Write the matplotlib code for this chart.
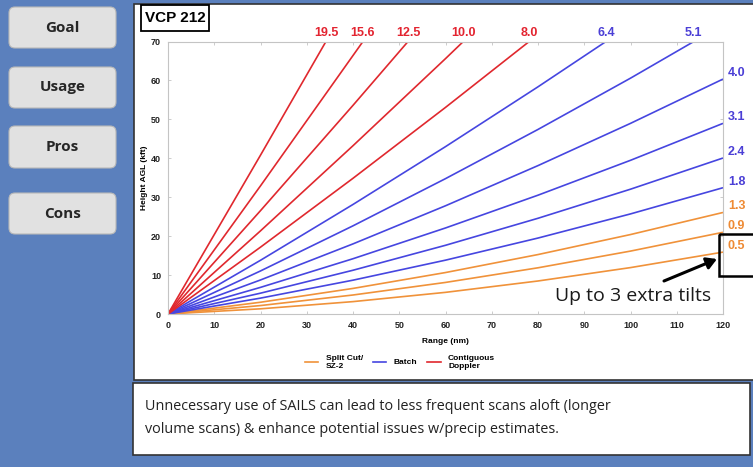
import matplotlib.pyplot as plt
from matplotlib.patches import Rectangle, FancyBboxPatch
from matplotlib.lines import Line2D

# elevation angles (deg) per scan type
split_tilts = ['0.5', '0.9', '1.3']
split_ranges = [[0, 20, 40, 60, 80, 100, 120]] * 3
split_heights = [
    [0, 1.33, 3.18, 5.56, 8.48, 11.92, 15.90],
    [0, 2.17, 4.88, 8.11, 11.87, 16.16, 20.99],
    [0, 3.02, 6.57, 10.65, 15.27, 20.41, 26.08],
]

batch_tilts = ['1.8', '2.4', '3.1', '4.0', '5.1', '6.4']
batch_ranges = [
    [0, 20, 40, 60, 80, 100, 120],
    [0, 20, 40, 60, 80, 100, 120],
    [0, 20, 40, 60, 80, 100, 120],
    [0, 20, 40, 60, 80, 100, 120],
    [0, 20, 40, 60, 80, 100, 113.7],
    [0, 20, 40, 60, 80, 94.7],
]
batch_heights = [
    [0, 4.08, 8.69, 13.83, 19.51, 25.71, 32.44],
    [0, 5.35, 11.24, 17.65, 24.59, 32.06, 40.07],
    [0, 6.84, 14.20, 22.10, 30.52, 39.48, 48.97],
    [0, 8.74, 18.01, 27.80, 38.12, 48.97, 60.35],
    [0, 11.06, 22.65, 34.77, 47.41, 60.58, 70],
    [0, 13.80, 28.14, 42.99, 58.36, 70],
]

contig_tilts = ['8.0', '10.0', '12.5', '15.6', '19.5']
contig_ranges = [
    [0, 20, 40, 60, 78.1],
    [0, 20, 40, 60, 63.85],
    [0, 20, 40, 51.9],
    [0, 20, 42.15],
    [0, 20, 34.15],
]
contig_heights = [
    [0, 17.17, 34.86, 53.07, 70],
    [0, 21.36, 43.23, 65.60, 70],
    [0, 26.55, 53.60, 70],
    [0, 32.92, 70],
    [0, 40.80, 70],
]

buttons = ['Goal', 'Usage', 'Pros', 'Cons']
note = ('Unnecessary use of SAILS can lead to less frequent scans aloft (longer\n'
        'volume scans) & enhance potential issues w/precip estimates.')

W, H = 753, 467
fig = plt.figure(figsize=(W / 100, H / 100), dpi=100)
fig.patch.set_facecolor('#5b80bd')

# background layer in pixel coords
bg = fig.add_axes([0, 0, 1, 1], zorder=0)
bg.set_xlim(0, W)
bg.set_ylim(H, 0)
bg.axis('off')

btn_y = [(7, 48), (67, 108), (126, 168), (193, 234)]
for name, (y0, y1) in zip(buttons, btn_y):
    bg.add_patch(FancyBboxPatch((9, y0), 107, y1 - y0,
                                boxstyle='round,pad=0,rounding_size=6',
                                fc='#e1e1e1', ec='#b8b8b8', lw=0.8))
    bg.text(62.5, (y0 + y1) / 2, name, ha='center', va='center',
            family='Open Sans', weight='bold', fontsize=11, color='#262626')

bg.add_patch(Rectangle((134, 4), 640, 376, fc='white', ec='#333333', lw=1.2))
bg.add_patch(Rectangle((133, 383), 617, 72, fc='white', ec='#333333', lw=1.2))
bg.text(145, 418, note, ha='left', va='center', family='Open Sans',
        fontsize=10.4, color='#222222', linespacing=1.75)

# title box
bg.add_patch(Rectangle((141, 5), 68, 26, fc='white', ec='black', lw=1.3))
bg.text(175, 18, 'VCP 212', ha='center', va='center', family='Liberation Sans',
        weight='bold', fontsize=11, color='black')

# chart
ax = fig.add_axes([168 / W, 1 - 314 / H, (723 - 168) / W, (314 - 41.5) / H], zorder=1)
ax.set_xlim(0, 120)
ax.set_ylim(0, 70)
ax.set_xticks(range(0, 121, 10))
ax.set_yticks(range(0, 71, 10))
for s in ax.spines.values():
    s.set_color('#c4c4c4')
    s.set_linewidth(0.8)
ax.tick_params(direction='in', length=2.5, width=0.6, color='#c4c4c4',
               top=True, right=True, labelsize=6.5, pad=5)
for lab in ax.get_xticklabels() + ax.get_yticklabels():
    lab.set_family('Liberation Sans')
    lab.set_weight('bold')
    lab.set_color('#222222')
ax.set_xlabel('Range (nm)', family='Liberation Sans', weight='bold', fontsize=6, labelpad=6)
ax.set_ylabel('Height AGL (kft)', family='Liberation Sans', weight='bold', fontsize=6, labelpad=2)

groups = [
    (split_tilts, split_ranges, split_heights, '#f0923a', '#ee8a33'),
    (batch_tilts, batch_ranges, batch_heights, '#4646e0', '#4b3fd6'),
    (contig_tilts, contig_ranges, contig_heights, '#e0282e', '#e32430'),
]
for tilts, rngs, hts, lc, tc in groups:
    for t, r, h in zip(tilts, rngs, hts):
        ax.plot(r, h, color=lc, lw=1.2, solid_capstyle='butt')
        if r[-1] < 120:
            ax.annotate(t, (r[-1], 70), xytext=(0, 8), textcoords='offset pixels',
                        ha='center', va='center', color=tc, fontsize=9,
                        family='Liberation Sans', weight='bold', annotation_clip=False)
        else:
            ax.annotate(t, (120, h[-1]), xytext=(5, 6), textcoords='offset pixels',
                        ha='left', va='center', color=tc, fontsize=9,
                        family='Liberation Sans', weight='bold', annotation_clip=False)

handles = [Line2D([], [], color=g[3], lw=1.2) for g in groups]
ax.legend(handles, ['Split Cut/\nSZ-2', 'Batch', 'Contiguous\nDoppler'],
          loc='center', bbox_to_anchor=(400 / W, 1 - 362 / H), bbox_transform=fig.transFigure,
          ncol=3, frameon=False, handlelength=1.6, handletextpad=0.9, columnspacing=1.2,
          prop={'family': 'Liberation Sans', 'weight': 'bold', 'size': 6})

# overlay: callout
ov = fig.add_axes([0, 0, 1, 1], zorder=2)
ov.set_xlim(0, W)
ov.set_ylim(H, 0)
ov.axis('off')
ov.add_patch(Rectangle((719, 234), 60, 42, fill=False, ec='black', lw=1.8))
ov.annotate('', xy=(717, 259), xytext=(664, 281),
            arrowprops=dict(arrowstyle='-|>,head_length=0.6,head_width=0.35',
                            color='black', lw=2.2, shrinkA=0, shrinkB=0))
ov.text(633, 296, 'Up to 3 extra tilts', ha='center', va='center',
        family='Open Sans', fontsize=14, color='#1a1a1a')

fig.savefig('out.png', dpi=100, facecolor=fig.get_facecolor())
